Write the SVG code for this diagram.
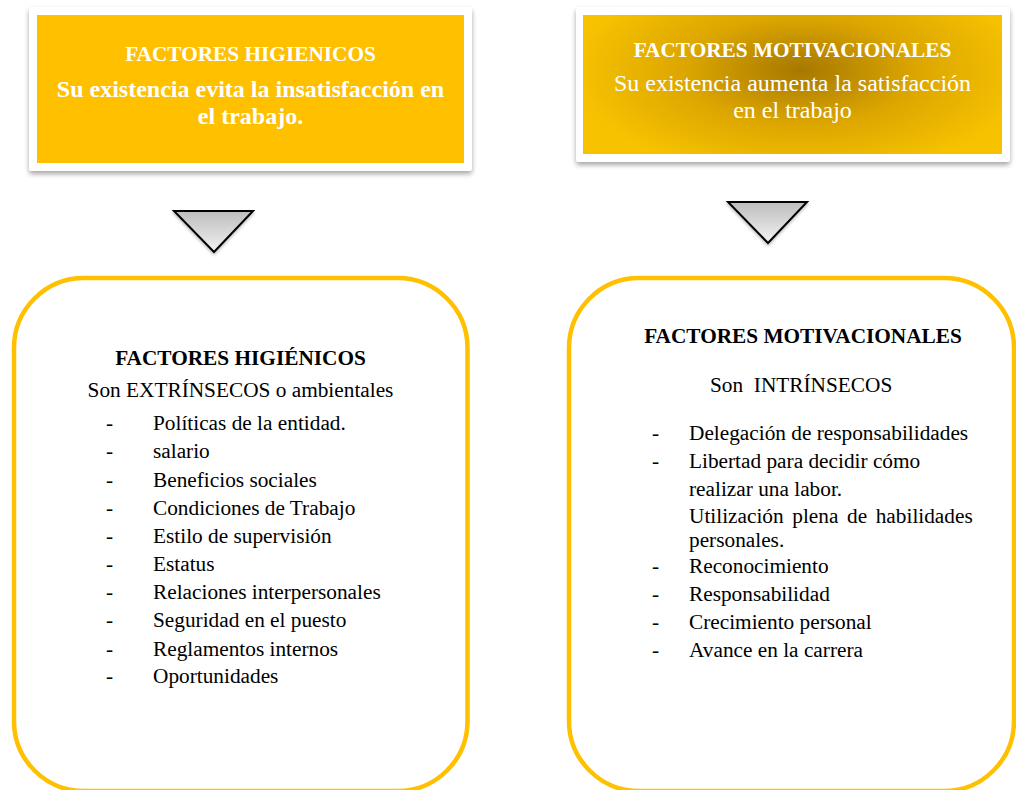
<svg xmlns="http://www.w3.org/2000/svg" width="1016" height="790" viewBox="0 0 1016 790">
<defs>
<style>
text{font-family:"Liberation Serif","Times New Roman",serif;}
.hdr{fill:#ffffff;font-weight:bold;font-size:21.3px;text-anchor:middle;}
.sub{fill:#ffffff;font-size:24px;text-anchor:middle;}
.ttl{fill:#000000;font-weight:bold;font-size:21.3px;text-anchor:middle;}
.it{fill:#000000;font-size:21.3px;}
.frame{fill:#ffffff;filter:url(#sh);}
.big{fill:#ffffff;stroke:#FFC000;stroke-width:4.5;}
.tri{fill:url(#tg);stroke:#000000;stroke-width:2;stroke-linejoin:miter;filter:url(#sh2);}
</style>
<filter id="sh" x="-5%" y="-10%" width="110%" height="125%">
<feDropShadow dx="0" dy="3" stdDeviation="2.5" flood-color="#000000" flood-opacity="0.35"/>
</filter>
<filter id="sh2" x="-20%" y="-20%" width="140%" height="150%">
<feDropShadow dx="0" dy="2" stdDeviation="1.5" flood-color="#000000" flood-opacity="0.25"/>
</filter>
<linearGradient id="tg" x1="0" y1="0" x2="0" y2="1">
<stop offset="0" stop-color="#bdbdbd"/>
<stop offset="1" stop-color="#f2f2f2"/>
</linearGradient>
<radialGradient id="rg" cx="0.52" cy="0.4" r="0.55" gradientTransform="translate(0.52 0.4) scale(1 1.4) translate(-0.52 -0.4)">
<stop offset="0" stop-color="#a67800"/>
<stop offset="0.5" stop-color="#dca600"/>
<stop offset="1" stop-color="#f7c300"/>
</radialGradient>
</defs>

<g id="connectors">
<polygon class="tri" points="174,211 253,211 214,252"/>
<polygon class="tri" points="728,202 807,202 768,243"/>
</g>

<g id="node-higienicos-top">
<rect class="frame" x="29" y="7" width="443" height="164" rx="3"/>
<rect x="37" y="15" width="427" height="148" fill="#FFC000"/>
<text class="hdr" x="250.5" y="61">FACTORES HIGIENICOS</text>
<text class="sub" x="250.5" y="97" font-weight="bold">Su existencia evita la insatisfacción en</text>
<text class="sub" x="250.5" y="124" font-weight="bold">el trabajo.</text>
</g>

<g id="node-motivacionales-top">
<rect class="frame" x="576" y="7" width="434" height="155" rx="3"/>
<rect x="583" y="15" width="419" height="139" fill="url(#rg)"/>
<text class="hdr" x="792.5" y="57">FACTORES MOTIVACIONALES</text>
<text class="sub" x="792.5" y="91">Su existencia aumenta la satisfacción</text>
<text class="sub" x="792.5" y="118">en el trabajo</text>
</g>

<g id="node-higienicos-list">
<rect class="big" x="14" y="278" width="453.5" height="513" rx="70"/>
<text class="ttl" x="240.5" y="365">FACTORES HIGIÉNICOS</text>
<text class="it" x="240.5" y="397" text-anchor="middle">Son EXTRÍNSECOS o ambientales</text>
<g class="it">
<text x="106" y="430">-</text><text x="153" y="430">Políticas de la entidad.</text>
<text x="106" y="458">-</text><text x="153" y="458">salario</text>
<text x="106" y="487">-</text><text x="153" y="487">Beneficios sociales</text>
<text x="106" y="515">-</text><text x="153" y="515">Condiciones de Trabajo</text>
<text x="106" y="543">-</text><text x="153" y="543">Estilo de supervisión</text>
<text x="106" y="571">-</text><text x="153" y="571">Estatus</text>
<text x="106" y="599">-</text><text x="153" y="599">Relaciones interpersonales</text>
<text x="106" y="627">-</text><text x="153" y="627">Seguridad en el puesto</text>
<text x="106" y="656">-</text><text x="153" y="656">Reglamentos internos</text>
<text x="106" y="683">-</text><text x="153" y="683">Oportunidades</text>
</g>
</g>

<g id="node-motivacionales-list">
<rect class="big" x="569" y="278" width="445" height="513" rx="70"/>
<text class="ttl" x="803" y="343">FACTORES MOTIVACIONALES</text>
<text class="it" x="710" y="392" xml:space="preserve">Son  INTRÍNSECOS</text>
<g class="it">
<text x="652" y="440">-</text><text x="689" y="440">Delegación de responsabilidades</text>
<text x="652" y="468">-</text><text x="689" y="468">Libertad para decidir cómo</text>
<text x="689" y="496">realizar una labor.</text>
<text x="689" y="523" word-spacing="3.3">Utilización plena de habilidades</text>
<text x="689" y="547">personales.</text>
<text x="652" y="573">-</text><text x="689" y="573">Reconocimiento</text>
<text x="652" y="601">-</text><text x="689" y="601">Responsabilidad</text>
<text x="652" y="629">-</text><text x="689" y="629">Crecimiento personal</text>
<text x="652" y="657">-</text><text x="689" y="657">Avance en la carrera</text>
</g>
</g>
</svg>
